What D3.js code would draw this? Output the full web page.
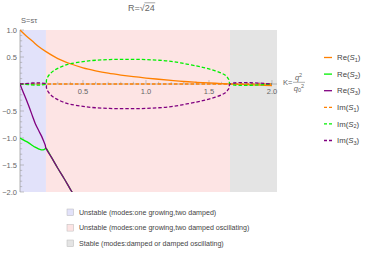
<!DOCTYPE html>
<html>
<head>
<meta charset="utf-8">
<script src="https://cdn.jsdelivr.net/npm/d3@7"></script>
<style>
  body { margin: 0; background: #fff; }
  text { font-family: "Liberation Sans", Arial, sans-serif; }
</style>
</head>
<body>
<div id="chart"></div>
<script>
// Data (K = q^2/q0^2)
const kSplit = 0.206;   // blue / pink boundary
const kStable = 1.667;  // pink / gray boundary
const kMax = 2.04;

const reS1 = [[0,1.0],[0.05,0.89],[0.1,0.79],[0.15,0.69],[0.206,0.60],[0.3,0.47],[0.4,0.375],[0.5,0.30],
  [0.6,0.245],[0.7,0.20],[0.8,0.165],[0.9,0.135],[1.0,0.11],[1.1,0.088],[1.2,0.066],[1.3,0.046],
  [1.4,0.032],[1.5,0.02],[1.6,0.008],[1.7,-0.002],[1.8,-0.012],[1.9,-0.02],[2.0,-0.028]];
const reS2 = [[0,-1.0],[0.03,-1.04],[0.066,-1.085],[0.1,-1.14],[0.12,-1.17],[0.15,-1.205],[0.17,-1.22],
  [0.19,-1.215],[0.2,-1.2],[0.206,-1.19],[0.25,-1.36],[0.3,-1.56],[0.35,-1.75],[0.4,-1.95],[0.45,-2.14]];
const reS3 = [[0,0],[0.02,-0.12],[0.066,-0.385],[0.1,-0.6],[0.12,-0.725],[0.15,-0.87],[0.172,-0.97],
  [0.19,-1.07],[0.2,-1.13],[0.206,-1.19],[0.25,-1.36],[0.3,-1.56],[0.35,-1.75],[0.4,-1.95],[0.45,-2.14]];
const imS1 = [[0,0],[2.0,0]];
const imS2 = [[0,0],[0.206,0],[0.21,0.07],[0.22,0.13],[0.24,0.19],[0.27,0.25],[0.3,0.29],[0.35,0.34],
  [0.4,0.375],[0.5,0.415],[0.6,0.44],[0.7,0.452],[0.8,0.457],[0.9,0.457],[1.0,0.452],[1.1,0.44],
  [1.2,0.42],[1.3,0.38],[1.4,0.335],[1.45,0.31],[1.5,0.28],[1.55,0.245],[1.6,0.2],[1.63,0.16],
  [1.65,0.11],[1.66,0.07],[1.667,0],[2.0,0]];
const imS3 = imS2.map(d => [d[0], -d[1]]);

const seriesNames = ["Re", "Re", "Re", "Im", "Im", "Im"];
const seriesIdx = ["1", "2", "3", "1", "2", "3"];
const seriesData = [reS1, reS2, reS3, imS1, imS2, imS3];
const seriesColor = ["#ff8000", "#00f000", "#800080", "#ff8000", "#00f000", "#800080"];

const regions = [
  {from: 0, to: kSplit, fill: "#e2e2fa", label: "Unstable (modes:one growing,two damped)"},
  {from: kSplit, to: kStable, fill: "#fde4e4", label: "Unstable (modes:one growing,two damped oscillating)"},
  {from: kStable, to: kMax, fill: "#e4e4e4", label: "Stable (modes:damped or damped oscillating)"}
];

const width = 368, height = 254;
const svg = d3.select('#chart').append('svg').attr('width', width).attr('height', height);

const x = d3.scaleLinear().domain([0, kMax]).range([20, 277]);
const y = d3.scaleLinear().domain([-2, 1]).range([192, 30]);

svg.append('clipPath').attr('id', 'clip').append('rect')
  .attr('x', x(0)).attr('y', y(1) - 2).attr('width', x(kMax) - x(0)).attr('height', y(-2) - y(1) + 2);

// shaded regions
svg.selectAll('rect.region').data(regions).join('rect')
  .attr('class', 'region')
  .attr('x', d => x(d.from)).attr('width', d => x(d.to) - x(d.from))
  .attr('y', y(1)).attr('height', y(-2) - y(1))
  .attr('fill', d => d.fill);

// axes
const axisColor = '#a0a0a0';
const textColor = '#666';
svg.append('line').attr('x1', x(0)).attr('x2', x(kMax)).attr('y1', y(0)).attr('y2', y(0)).attr('stroke', axisColor).attr('stroke-width', 0.8);
svg.append('line').attr('x1', x(0)).attr('x2', x(0)).attr('y1', y(1)).attr('y2', y(-2)).attr('stroke', axisColor).attr('stroke-width', 0.8);

const yMinor = d3.range(-20, 11).map(i => i / 10);
svg.selectAll('line.ytick').data(yMinor).join('line')
  .attr('x1', x(0)).attr('x2', d => x(0) + (Math.abs(d * 2 - Math.round(d * 2)) < 1e-6 ? 4 : 2.2))
  .attr('y1', d => y(d)).attr('y2', d => y(d))
  .attr('stroke', axisColor).attr('stroke-width', 0.6);
const yLabels = [1, 0.5, -0.5, -1, -1.5, -2];
svg.selectAll('text.ylab').data(yLabels).join('text')
  .attr('x', x(0) - 3).attr('y', d => y(d) + 2.6)
  .attr('text-anchor', 'end').attr('font-size', 7.5).attr('fill', textColor)
  .text(d => d3.format('.1f')(d).replace('-', '\u2212'));

const xMinor = d3.range(1, 21).map(i => i / 10);
svg.selectAll('line.xtick').data(xMinor).join('line')
  .attr('y1', y(0)).attr('y2', d => y(0) - (Math.abs(d * 2 - Math.round(d * 2)) < 1e-6 ? 4 : 2.2))
  .attr('x1', d => x(d)).attr('x2', d => x(d))
  .attr('stroke', axisColor).attr('stroke-width', 0.6);
const xLabels = [0.5, 1, 1.5, 2];
svg.selectAll('text.xlab').data(xLabels).join('text')
  .attr('x', d => x(d)).attr('y', y(0) + 10)
  .attr('text-anchor', 'middle').attr('font-size', 7.5).attr('fill', textColor)
  .text(d => d3.format('.1f')(d));

// curves
const line = d3.line().x(d => x(d[0])).y(d => y(d[1])).curve(d3.curveCatmullRom.alpha(0.5));
const g = svg.append('g').attr('clip-path', 'url(#clip)');
seriesData.forEach((data, i) => {
  g.append('path').datum(data)
    .attr('d', line)
    .attr('fill', 'none')
    .attr('stroke', seriesColor[i])
    .attr('stroke-width', 1.3)
    .attr('stroke-dasharray', seriesNames[i] === 'Im' ? '3.5,2' : null);
});

// axis labels
const xl = svg.append('g').attr('fill', textColor).attr('font-size', 7.5);
xl.append('text').attr('x', 283).attr('y', 85).text('K=');
xl.append('text').attr('x', 298.5).attr('y', 79.5).attr('text-anchor', 'middle')
  .html('<tspan font-style="italic">q</tspan><tspan dy="-2.8" font-size="5.5">2</tspan>');
xl.append('line').attr('x1', 293).attr('x2', 305).attr('y1', 82.3).attr('y2', 82.3).attr('stroke', textColor).attr('stroke-width', 0.5);
xl.append('text').attr('x', 299).attr('y', 90.5).attr('text-anchor', 'middle')
  .html('<tspan font-style="italic">q</tspan><tspan dy="1.5" font-size="5.5">0</tspan><tspan dy="-4.3" font-size="5.5">2</tspan>');

svg.append('text').attr('x', 21).attr('y', 22.5).attr('font-size', 7.5).attr('fill', textColor).text('S=s\u03c4');

// title
const title = svg.append('text').attr('x', 128).attr('y', 11).attr('font-size', 9).attr('fill', textColor);
title.append('tspan').text('R=\u221a');
title.append('tspan').text('24');
const tnode = title.node();
const start = tnode.getSubStringLength(0, 3);
const len = tnode.getSubStringLength(3, 2);
svg.append('line').attr('x1', 128 + start - 0.3).attr('x2', 128 + start + len + 0.5)
  .attr('y1', 2.8).attr('y2', 2.8).attr('stroke', textColor).attr('stroke-width', 0.6);

// right legend
const legY = d3.scaleLinear().domain([0, 5]).range([57.5, 140.5]);
const leg = svg.selectAll('g.leg').data(seriesData.map((d, i) => i)).join('g')
  .attr('class', 'leg').attr('transform', i => `translate(324,${legY(i)})`);
leg.append('line').attr('x1', 0).attr('x2', 8).attr('y1', 0).attr('y2', 0)
  .attr('stroke', i => seriesColor[i]).attr('stroke-width', 1.3)
  .attr('stroke-dasharray', i => seriesNames[i] === 'Im' ? '3,2' : null);
leg.append('text').attr('x', 13).attr('y', 2.6).attr('font-size', 7.8).attr('fill', '#444')
  .html(i => `${seriesNames[i]}(<tspan font-style="italic">S</tspan><tspan dy="1.8" font-size="5.5">${seriesIdx[i]}</tspan><tspan dy="-1.8">)</tspan>`);

// bottom legend
const botY = d3.scaleLinear().domain([0, 2]).range([212.3, 243.3]);
const bl = svg.selectAll('g.bl').data(regions).join('g')
  .attr('class', 'bl').attr('transform', (d, i) => `translate(67,${botY(i)})`);
bl.append('rect').attr('x', 0).attr('y', -3.3).attr('width', 6.6).attr('height', 6.6)
  .attr('fill', d => d.fill).attr('stroke', '#b8b8b8').attr('stroke-width', 0.5);
bl.append('text').attr('x', 12).attr('y', 2.4).attr('font-size', 7.1).attr('fill', '#444')
  .text(d => d.label);
</script>
</body>
</html>
